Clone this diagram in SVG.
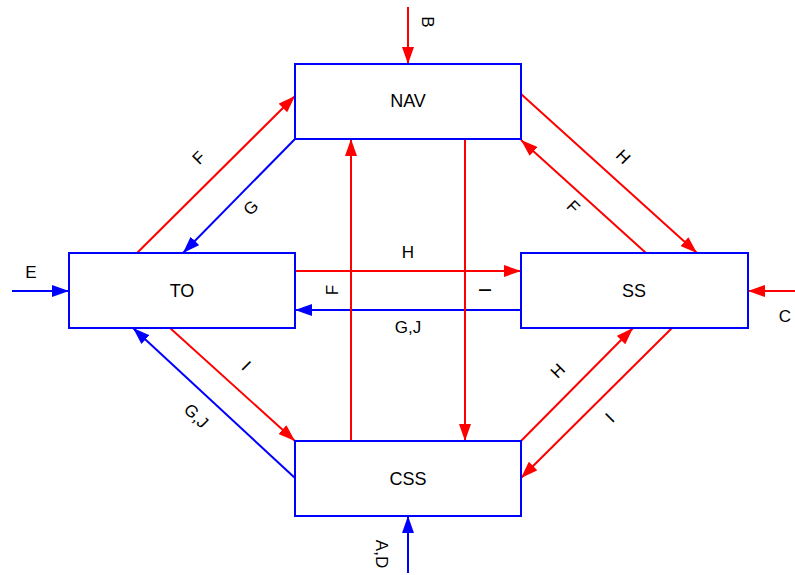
<svg xmlns="http://www.w3.org/2000/svg" width="795" height="575" viewBox="0 0 795 575">
<style>
.box{fill:#fff;stroke:#0000ff;stroke-width:2}
.r{stroke:#ff0000;stroke-width:2;fill:none;marker-end:url(#ar)}
.b{stroke:#0000ff;stroke-width:2;fill:none;marker-end:url(#ab)}
text{font-family:"Liberation Sans",Arial,sans-serif;font-size:18px;fill:#000;text-anchor:middle;dominant-baseline:central}
.lbl{font-size:17px}
</style>
<defs>
<marker id="ar" viewBox="0 0 17 12" refX="17" refY="6" markerWidth="17" markerHeight="12" markerUnits="userSpaceOnUse" orient="auto"><path d="M0,0 L17,6 L0,12 z" fill="#ff0000"/></marker>
<marker id="ab" viewBox="0 0 17 12" refX="17" refY="6" markerWidth="17" markerHeight="12" markerUnits="userSpaceOnUse" orient="auto"><path d="M0,0 L17,6 L0,12 z" fill="#0000ff"/></marker>
</defs>
<rect width="795" height="575" fill="#fff"/>
<g id="connectors">
<path class="r" d="M408,7 L408,64"/>
<path class="r" d="M137,253 L295,96"/>
<path class="b" d="M295,139 L183,253"/>
<path class="r" d="M295,271 L521,271"/>
<path class="b" d="M521,310 L295,310"/>
<path class="r" d="M351,441 L351,139"/>
<path class="r" d="M465,139 L465,441"/>
<path class="r" d="M521,94 L697,253"/>
<path class="r" d="M646,253 L521,140"/>
<path class="b" d="M12,291 L69,291"/>
<path class="r" d="M795,291 L748,291"/>
<path class="r" d="M521,441 L633,328"/>
<path class="r" d="M672,328 L521,478"/>
<path class="r" d="M170,328 L295,441"/>
<path class="b" d="M295,478 L133,328"/>
<path class="b" d="M408,573 L408,516"/>
<text class="lbl" transform="translate(427,22) rotate(90)">B</text>
<text class="lbl" transform="translate(199,158) rotate(-45)">F</text>
<text class="lbl" transform="translate(251,208) rotate(-45)">G</text>
<text class="lbl" x="408" y="252">H</text>
<text class="lbl" x="408" y="327">G,J</text>
<text class="lbl" transform="translate(332,290) rotate(-90)">F</text>
<text class="lbl" transform="translate(484,290) rotate(90)">I</text>
<text class="lbl" transform="translate(623,157) rotate(45)">H</text>
<text class="lbl" transform="translate(573,207) rotate(45)">F</text>
<text class="lbl" x="31" y="272">E</text>
<text class="lbl" x="785" y="316">C</text>
<text class="lbl" transform="translate(558,371) rotate(-45)">H</text>
<text class="lbl" transform="translate(610,418) rotate(-45)">I</text>
<text class="lbl" transform="translate(246,366) rotate(45)">I</text>
<text class="lbl" transform="translate(196,416) rotate(45)">G,J</text>
<text class="lbl" transform="translate(381,554) rotate(90)">A,D</text>
</g>
<g id="NAV"><rect class="box" x="295" y="64" width="226" height="75"/><text x="408" y="101">NAV</text></g>
<g id="TO"><rect class="box" x="69" y="253" width="226" height="75"/><text x="182" y="291">TO</text></g>
<g id="SS"><rect class="box" x="521" y="253" width="227" height="75"/><text x="634" y="291">SS</text></g>
<g id="CSS"><rect class="box" x="295" y="441" width="226" height="75"/><text x="408" y="479">CSS</text></g>
</svg>
